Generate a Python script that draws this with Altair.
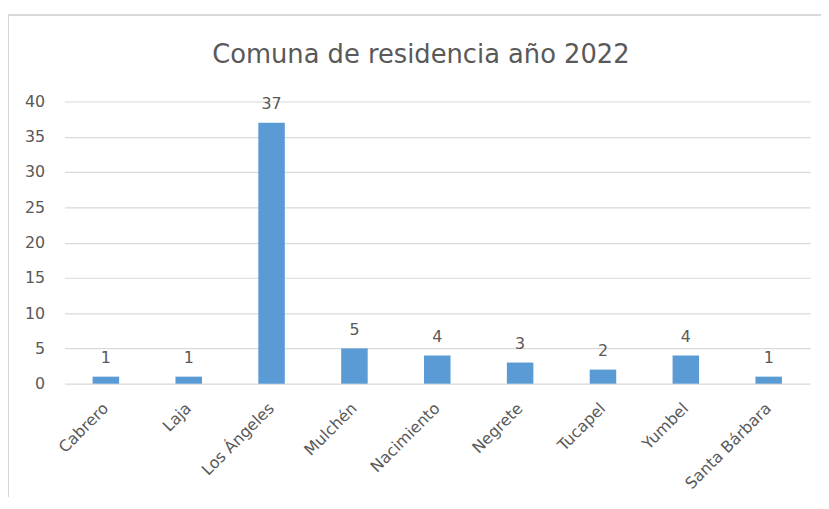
import altair as alt
import pandas as pd

comunas = ["Cabrero", "Laja", "Los Ángeles", "Mulchén", "Nacimiento",
           "Negrete", "Tucapel", "Yumbel", "Santa Bárbara"]
valores = [1, 1, 37, 5, 4, 3, 2, 4, 1]
titulo = "Comuna de residencia año 2022"

df = pd.DataFrame({"comuna": comunas, "valor": valores})

FONT = "DejaVu Sans"
GREY = "#595959"

x = alt.X("comuna:N", sort=comunas, title=None,
          scale=alt.Scale(paddingInner=0.68, paddingOuter=0.34),
          axis=alt.Axis(labelAngle=-45, labelAlign="right", labelBaseline="middle",
                        labelFontSize=16, labelColor=GREY, labelFont=FONT,
                        ticks=False, domain=False, labelPadding=22))
y = alt.Y("valor:Q", title=None,
          scale=alt.Scale(domain=[0, 40]),
          axis=alt.Axis(values=list(range(0, 41, 5)), grid=True, gridColor="#D9D9D9",
                        gridWidth=1.2, labelOverlap=False,
                        ticks=False, domain=False, labelFontSize=16, labelColor=GREY,
                        labelFont=FONT, labelPadding=20))

border = alt.Chart(df).mark_rect(fillOpacity=0, stroke="#D9D9D9", strokeWidth=1.5).encode(
    x=alt.value(-57), x2=alt.value(800), y=alt.value(-87), y2=alt.value(450)
)

title_df = pd.DataFrame({"t": [titulo]})
title_mark = alt.Chart(title_df).mark_text(
    fontSize=26, font=FONT, color=GREY, align="center", baseline="alphabetic"
).encode(x=alt.value(360), y=alt.value(-39), text="t:N")

bars = alt.Chart(df).mark_bar(color="#5B9BD5").encode(x=x, y=y)
labels = alt.Chart(df).mark_text(dy=-14, baseline="alphabetic", fontSize=16, color=GREY, font=FONT).encode(
    x=x, y=y, text="valor:Q"
)

chart = alt.layer(border, title_mark, bars, labels).properties(
    width=753, height=285,
    autosize=alt.AutoSizeParams(type="none"),
    padding={"left": 57, "top": 92, "right": 11, "bottom": 112},
).configure_view(stroke=None)

chart.save("out.html", embed_options={"renderer": "svg", "actions": False})
